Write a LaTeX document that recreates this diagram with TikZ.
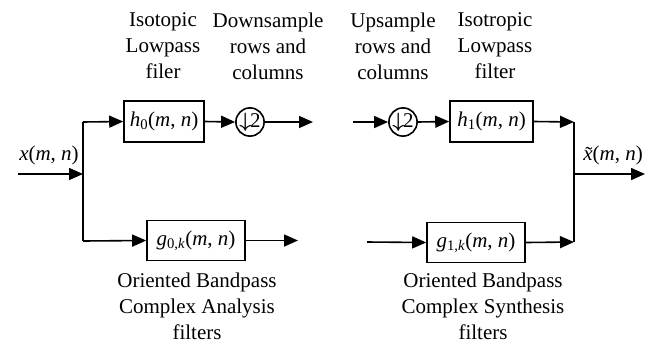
\documentclass[tikz,border=0pt]{standalone}
\usepackage{fontspec}
\setmainfont{Liberation Serif}
\usetikzlibrary{arrows.meta}
\newcommand{\vv}[1]{\textit{#1}}
\newcommand{\xtilde}{\makebox[0pt][l]{\hspace{0.1em}\raisebox{-0.15ex}{\symbol{"02DC}}}\textit{x}}
\newcommand{\dtwo}{{\boldmath$\downarrow$}\kern-0.05em 2}
\begin{document}
\begin{tikzpicture}[x=1pt,y=-1pt,
  txt/.style={font=\fontsize{21}{26}\selectfont},
  lbl/.style={txt, align=center, inner sep=0pt},
  blk/.style={txt, draw, line width=1.6pt, minimum height=41pt, inner sep=0pt},
  smp/.style={txt, circle, draw, line width=1.6pt, minimum size=27pt, inner sep=0pt},
  wire/.style={line width=1.6pt},
  arr/.style={wire, -{Triangle[length=14pt,width=12pt]}}]
\useasboundingbox (0,0) rectangle (650,346);

% analysis side
\coordinate (in) at (18,174);
\coordinate (split) at (83,174);
\coordinate (sT) at (83,122);
\coordinate (sB) at (83,241);
\node[blk, minimum width=80pt] (h0) at (164,121.5) {\vv{h}\textsubscript{0}(\vv{m}, \vv{n})};
\node[smp] (ds) at (250,122) {\dtwo};
\coordinate (dsout) at (313,122);
\node[blk, minimum width=98pt, minimum height=40pt] (g0) at (196,240.5) {\vv{g}\textsubscript{0,\vv{k}}(\vv{m}, \vv{n})};
\coordinate (g0out) at (298,240.5);

\draw[arr] (in) -- (split);
\draw[wire] (sT) -- (sB);
\draw[arr] (sT) -- (h0.west);
\draw[arr] (h0.east) -- (ds.west);
\draw[arr] (ds.east) -- (dsout);
\draw[arr] (sB) -- (g0.west);
\draw[arr] (g0.east) -- (g0out);

% synthesis side
\coordinate (usin) at (353,122);
\node[smp] (us) at (403,122) {\dtwo};
\node[blk, minimum width=83pt] (h1) at (491.5,121.5) {\vv{h}\textsubscript{1}(\vv{m}, \vv{n})};
\coordinate (jT) at (574,122);
\coordinate (jB) at (574,242);
\coordinate (jM) at (574,174);
\coordinate (out) at (645,174);
\coordinate (g1in) at (367,242);
\node[blk, minimum width=98pt, minimum height=40pt] (g1) at (476,242.5) {\vv{g}\textsubscript{1,\vv{k}}(\vv{m}, \vv{n})};

\draw[arr] (usin) -- (us.west);
\draw[arr] (us.east) -- (h1.west);
\draw[arr] (h1.east) -- (jT);
\draw[arr] (g1in) -- (g1.west);
\draw[arr] (g1.east) -- (jB);
\draw[wire] (jT) -- (jB);
\draw[arr] (jM) -- (out);

% signal names
\node[lbl] (xin) at (49,155) {\vv{x}(\vv{m}, \vv{n})};
\node[lbl] (xout) at (613,155) {\xtilde(\vv{m}, \vv{n})};

% captions
\node[lbl] (capA) at (163,46) {Isotopic\\Lowpass\\filer};
\node[lbl] (capB) at (268,46) {Downsample\\rows and\\columns};
\node[lbl] (capC) at (393,46) {Upsample\\rows and\\columns};
\node[lbl] (capD) at (495,46) {Isotropic\\Lowpass\\filter};
\node[lbl] (capE) at (197,306) {Oriented Bandpass\\Complex Analysis\\filters};
\node[lbl] (capF) at (483,306) {Oriented Bandpass\\Complex Synthesis\\filters};
\end{tikzpicture}
\end{document}
